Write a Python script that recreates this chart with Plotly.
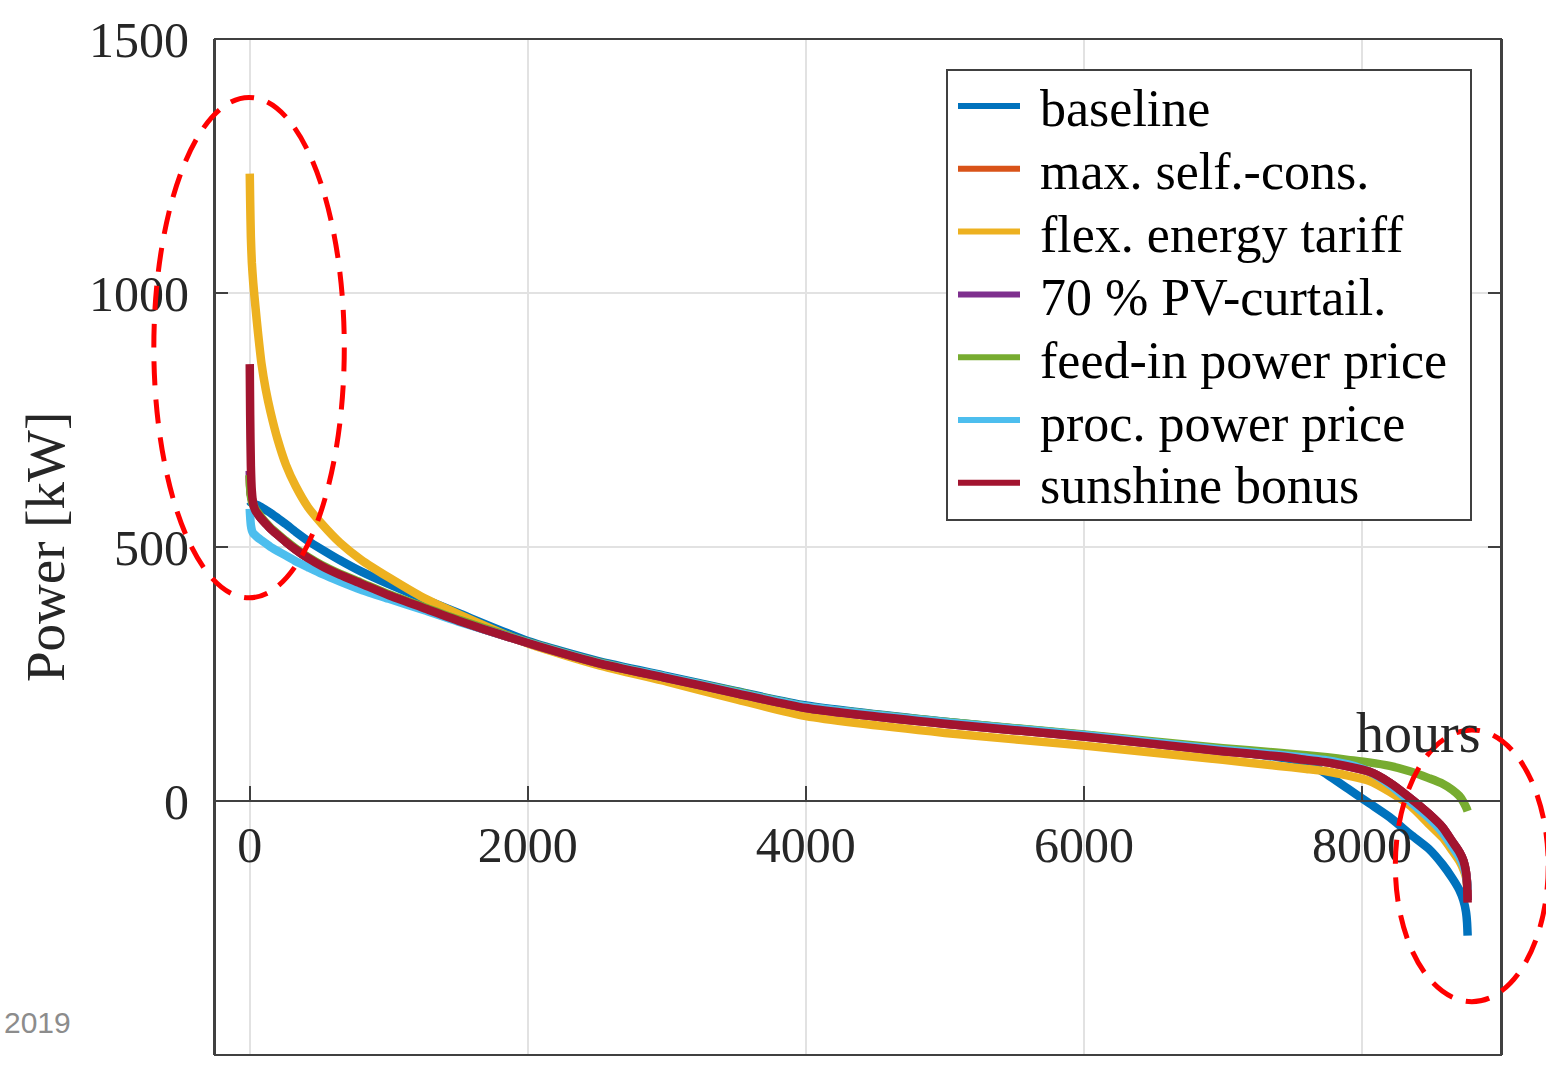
import plotly.graph_objects as go

# Load duration curves: grid power sorted in descending order over the year
HOURS = [0, 3, 8, 15, 25, 40, 60, 85, 115, 150, 200, 260, 330, 420, 520, 650, 800,
         1000, 1250, 1500, 2000, 2500, 3000, 3500, 4000, 5000, 6000, 7000, 7400,
         7600, 7750, 7900, 8050, 8200, 8350, 8480, 8580, 8650, 8700, 8730, 8748,
         8756, 8760]

baseline = [590, 589, 588, 587, 586, 584, 582, 578, 573, 567, 557, 545, 530, 512, 495, 474, 452,
            427, 398, 370, 315, 276, 246, 216, 188, 156, 130, 100, 86,
            76, 52, 24, -4, -32, -66, -94, -125, -152, -175, -196, -218,
            -240, -265]
max_self_cons = [640, 618, 603, 595, 585, 572, 564, 555, 546, 536, 524, 510, 495, 478, 462, 445, 428,
                 405, 380, 355, 311, 272, 242, 212, 183, 152, 127, 98, 88,
                 81, 76, 68, 58, 36, 5, -25, -52, -80, -100, -118, -140,
                 -160, -195]
flex_energy_tariff = [1235, 1180, 1110, 1060, 1020, 975, 920, 860, 810, 765, 712, 662, 620, 578, 545, 508, 475,
                      440, 400, 368, 310, 268, 235, 200, 167, 134, 109, 81, 69,
                      63, 58, 50, 40, 18, -10, -45, -72, -98, -118, -135, -150,
                      -165, -185]
pv_curtail_70 = [650, 620, 604, 595, 585, 572, 564, 555, 546, 536, 524, 510, 495, 478, 462, 445, 428,
                 405, 380, 355, 311, 272, 242, 212, 183, 152, 127, 98, 88,
                 81, 76, 68, 58, 36, 5, -25, -52, -80, -100, -118, -140,
                 -160, -195]
feed_in_power_price = [642, 615, 600, 590, 583, 575, 567, 558, 548, 538, 526, 512, 497, 480, 464, 447, 430,
                       407, 382, 357, 313, 274, 244, 215, 186, 156, 131, 104, 95,
                       90, 86, 81, 76, 69, 58, 45, 34, 22, 10, -2, -12,
                       -17, -20]
proc_power_price = [575, 560, 543, 533, 527, 523, 518, 513, 507, 500, 492, 483, 472, 460, 447, 432, 416,
                    398, 376, 353, 312, 273, 244, 214, 186, 155, 130, 101, 91,
                    85, 80, 72, 58, 32, -2, -33, -62, -90, -110, -128, -145,
                    -160, -175]
sunshine_bonus = [860, 760, 660, 610, 585, 572, 564, 555, 546, 536, 524, 510, 495, 478, 462, 445, 428,
                  405, 380, 355, 311, 272, 242, 212, 183, 152, 127, 98, 88,
                  81, 76, 68, 58, 36, 5, -25, -52, -80, -100, -118, -140,
                  -165, -200]

SERIES_NAMES = ["baseline", "max. self.-cons.", "flex. energy tariff", "70 % PV-curtail.",
                "feed-in power price", "proc. power price", "sunshine bonus"]
SERIES_VALUES = [baseline, max_self_cons, flex_energy_tariff, pv_curtail_70,
                 feed_in_power_price, proc_power_price, sunshine_bonus]
COLORS = ["#0072BD", "#D95319", "#EDB120", "#7E2F8E", "#77AC30", "#4DBEEE", "#A2142F"]

X_TICKS = [0, 2000, 4000, 6000, 8000]
Y_TICKS = [-500, 0, 500, 1000, 1500]
Y_TICK_TEXT = ["-500", "0", "500", "1000", "1500"]
X_RANGE = [-250, 9000]
Y_RANGE = [-500, 1500]

# highlighted regions (hours, kW): start-of-year peaks and end-of-year feed-in
HIGHLIGHTS = [
    dict(x=(-690, 680), y=(400, 1385)),
    dict(x=(8240, 9340), y=(-395, 140)),
]

# figure geometry (px)
W, H = 1546, 1070
M_L, M_R, M_T, M_B = 215, 45, 39, 15
PLOT_W = W - M_L - M_R
PLOT_H = H - M_T - M_B

SERIF = "Liberation Serif, Times New Roman, serif"
AXIS_GREY = "#404040"
TEXT_GREY = "#262626"


def to_paper(v, rng):
    return (v - rng[0]) / (rng[1] - rng[0])


def px_x(px):
    return (px - M_L) / PLOT_W


def px_y(py):
    return (H - M_B - py) / PLOT_H


fig = go.Figure()
for name, vals, col in zip(SERIES_NAMES, SERIES_VALUES, COLORS):
    fig.add_trace(go.Scatter(x=HOURS, y=vals, mode="lines", name=name,
                             showlegend=False,
                             line=dict(color=col, width=8.5, shape="spline", smoothing=0.6)))

shapes = [
    # axes box
    dict(type="rect", xref="paper", yref="paper", x0=0, x1=1, y0=0, y1=1,
         line=dict(color=AXIS_GREY, width=2), layer="above"),
]
for h in HIGHLIGHTS:
    shapes.append(dict(
        type="circle", xref="paper", yref="paper",
        x0=to_paper(h["x"][0], X_RANGE), x1=to_paper(h["x"][1], X_RANGE),
        y0=to_paper(h["y"][0], Y_RANGE), y1=to_paper(h["y"][1], Y_RANGE),
        line=dict(color="#ff0000", width=5, dash="24px,14px"), layer="above"))

annotations = [
    dict(text="Power [kW]", xref="paper", yref="paper",
         x=px_x(45), y=0.5, textangle=-90,
         showarrow=False, xanchor="center", yanchor="middle",
         font=dict(family=SERIF, size=55, color=TEXT_GREY)),
    dict(text="hours", xref="x", yref="y", x=8400, y=134,
         showarrow=False, xanchor="center", yanchor="middle",
         font=dict(family=SERIF, size=56, color=TEXT_GREY)),
    dict(text="2019", xref="paper", yref="paper", x=px_x(2), y=px_y(1022),
         showarrow=False, xanchor="left", yanchor="middle",
         font=dict(family="Liberation Sans, Arial, sans-serif", size=30, color="#8c8c8c")),
]

# legend: framed box with line samples and labels
LEG_BOX = (947, 70, 1471, 520)
LEG_FIRST_Y, LEG_STEP = 106, 62.8
shapes.append(dict(type="rect", xref="paper", yref="paper",
                   x0=px_x(LEG_BOX[0]), x1=px_x(LEG_BOX[2]),
                   y0=px_y(LEG_BOX[3]), y1=px_y(LEG_BOX[1]),
                   fillcolor="white", line=dict(color=AXIS_GREY, width=2), layer="above"))
for i, (name, col) in enumerate(zip(SERIES_NAMES, COLORS)):
    yy = LEG_FIRST_Y + i * LEG_STEP
    shapes.append(dict(type="line", xref="paper", yref="paper",
                       x0=px_x(958), x1=px_x(1020), y0=px_y(yy), y1=px_y(yy),
                       line=dict(color=col, width=6), layer="above"))
    annotations.append(dict(text=name, xref="paper", yref="paper",
                            x=px_x(1038), y=px_y(yy + 3),
                            showarrow=False, xanchor="left", yanchor="middle",
                            font=dict(family=SERIF, size=52, color="black")))

fig.update_layout(
    width=W, height=H,
    margin=dict(l=M_L, r=M_R, t=M_T, b=M_B),
    paper_bgcolor="white", plot_bgcolor="white",
    showlegend=False,
    shapes=shapes,
    annotations=annotations,
)

fig.update_xaxes(
    range=X_RANGE, anchor="free", position=to_paper(0, Y_RANGE),
    showline=True, linecolor=AXIS_GREY, linewidth=2,
    ticks="inside", ticklen=14, tickwidth=2, tickcolor=AXIS_GREY,
    tickvals=X_TICKS, ticktext=[str(t) for t in X_TICKS],
    tickfont=dict(family=SERIF, size=50, color=TEXT_GREY),
    showgrid=True, gridcolor="#e2e2e2", gridwidth=1.5, zeroline=False,
)
fig.update_yaxes(
    range=Y_RANGE, showline=True, mirror="ticks", linecolor=AXIS_GREY, linewidth=2,
    ticks="inside", ticklen=13, tickwidth=2, tickcolor=AXIS_GREY,
    tickvals=Y_TICKS, ticktext=Y_TICK_TEXT, ticklabelstandoff=14,
    tickfont=dict(family=SERIF, size=50, color=TEXT_GREY),
    showgrid=True, gridcolor="#e2e2e2", gridwidth=1.5, zeroline=False,
)

fig.write_html("out.html")
